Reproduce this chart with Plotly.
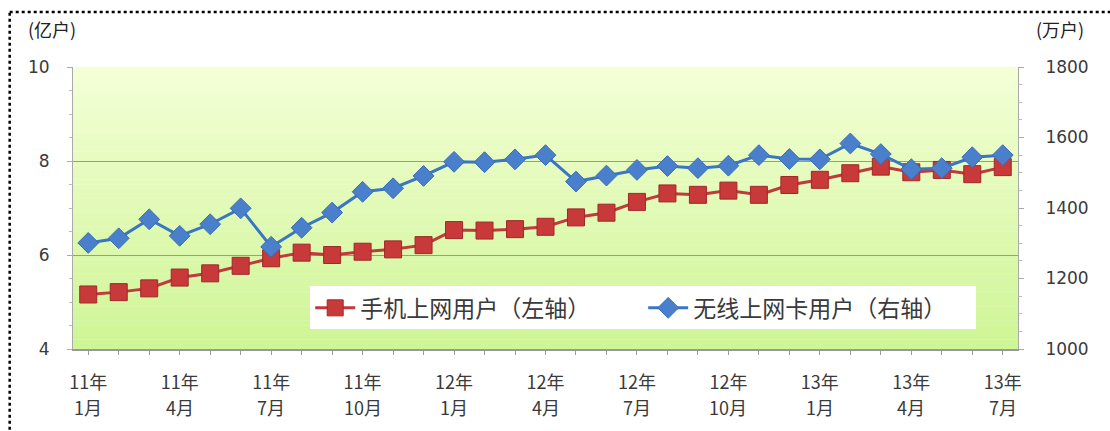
import plotly.graph_objects as go

months = [f"{y}年{m}月" for y in (11, 12, 13) for m in range(1, 13)][:31]
mobile_users = [5.16, 5.21, 5.29, 5.52, 5.61, 5.77, 5.93, 6.05, 6.00, 6.07,
                6.12, 6.21, 6.53, 6.52, 6.55, 6.60, 6.80, 6.90, 7.13, 7.31,
                7.28, 7.37, 7.28, 7.49, 7.60, 7.74, 7.88, 7.76, 7.81, 7.72, 7.87]
card_users = [1301, 1314, 1368, 1321, 1354, 1399, 1290, 1344, 1387, 1446,
              1456, 1491, 1531, 1530, 1538, 1550, 1475, 1492, 1508, 1519,
              1513, 1520, 1550, 1539, 1538, 1583, 1553, 1510, 1513, 1544, 1550]
tick_months = months[::3]
tick_years = [m.split("年")[0] + "年" if i % 3 == 0 else "" for i, m in enumerate(months)]
tick_month_text = [m.split("年")[1] for m in tick_months]

left_ticks = [4, 6, 8, 10]
right_ticks = [1000, 1200, 1400, 1600, 1800]

RED = "#c0393b"
BLUE = "#3b76c4"
NUM_FONT = "DejaVu Sans"
CJK = "Noto Sans CJK SC"
TXT = "#3a3a3a"

fig = go.Figure()
fig.add_trace(go.Scatter(
    x=months, y=mobile_users, name="手机上网用户（左轴）", mode="lines+markers",
    line=dict(color=RED, width=3),
    marker=dict(symbol="square", size=17, color="#c8393a", line=dict(color="#a02828", width=1)),
    yaxis="y"))
fig.add_trace(go.Scatter(
    x=months, y=card_users, name="无线上网卡用户（右轴）", mode="lines+markers",
    line=dict(color=BLUE, width=3),
    marker=dict(symbol="diamond", size=16, color="#4a7fcc", line=dict(color="#3a6cb8", width=1)),
    yaxis="y2"))

# gradient background for the plot area
shapes = []
n = 60
top = (244, 255, 214)
bot = (206, 245, 150)
for i in range(n):
    t = i / (n - 1)
    c = tuple(int(round(top[k] + (bot[k] - top[k]) * t)) for k in range(3))
    shapes.append(dict(type="rect", xref="x domain", yref="y domain",
                       x0=0, x1=1, y0=1 - (i + 1) / n, y1=1 - i / n + 0.001,
                       fillcolor=f"rgb{c}", line=dict(width=0), layer="below"))
# outer dotted frame (left & top)
shapes.append(dict(type="line", xref="paper", yref="paper", x0=-0.067, x1=-0.067,
                   y0=-0.35, y1=1.195, line=dict(color="black", width=2.5, dash="dot")))
shapes.append(dict(type="line", xref="paper", yref="paper", x0=-0.067, x1=1.12,
                   y0=1.195, y1=1.195, line=dict(color="black", width=2.5, dash="dot")))

fig.update_layout(
    width=1110, height=431,
    margin=dict(l=73, r=92, t=67, b=82, autoexpand=False),
    paper_bgcolor="white", plot_bgcolor="rgba(0,0,0,0)",
    shapes=shapes,
    showlegend=True,
    legend=dict(orientation="h", x=0.251, y=0.222, xanchor="left", yanchor="top",
                bgcolor="white", font=dict(family=CJK, size=23, color=TXT),
                itemwidth=40, entrywidth=278, tracegroupgap=0),
    xaxis=dict(type="category", range=[-0.5, 30.5], tickmode="array",
               tickvals=months, ticktext=tick_years, showgrid=False,
               showline=True, linecolor="#999", linewidth=2,
               ticks="outside", ticklen=4, tickcolor="#999",
               ticklabelstandoff=12, automargin=False,
               tickfont=dict(family=CJK, size=18, color=TXT)),
    yaxis=dict(range=[4, 10], tickvals=left_ticks, showgrid=True, gridcolor="#999",
               gridwidth=1, zeroline=False, showline=True, linecolor="#aaa", linewidth=1,
               ticks="outside", ticklen=5, tickcolor="#aaa",
               minor=dict(ticks="outside", ticklen=3, dtick=0.5, tickcolor="#bbb", showgrid=False),
               ticklabelstandoff=14, automargin=False,
               tickfont=dict(family=NUM_FONT, size=17, color=TXT)),
    yaxis2=dict(range=[1000, 1800], tickvals=right_ticks, overlaying="y", side="right",
                showgrid=False, zeroline=False, showline=True, linecolor="#aaa", linewidth=1,
                ticks="outside", ticklen=5, tickcolor="#aaa",
                minor=dict(ticks="outside", ticklen=3, dtick=50, tickcolor="#bbb", showgrid=False),
                ticklabelstandoff=18, automargin=False,
                tickfont=dict(family=NUM_FONT, size=17, color=TXT)),
)

for m, txt in zip(tick_months, tick_month_text):
    fig.add_annotation(text=txt, x=m, xref="x", yref="paper", y=-0.205,
                       yanchor="middle", showarrow=False,
                       font=dict(family=CJK, size=18, color=TXT))

fig.add_annotation(text="(亿户)", xref="paper", yref="paper", x=-0.05, y=1.08,
                   xanchor="left", yanchor="bottom", showarrow=False,
                   font=dict(family=CJK, size=18, color="#222"))
fig.add_annotation(text="(万户)", xref="paper", yref="paper", x=1.017, y=1.08,
                   xanchor="left", yanchor="bottom", showarrow=False,
                   font=dict(family=CJK, size=18, color="#222"))

fig.write_html("out.html", config={"displayModeBar": False},
               post_script="document.body.style.margin='0';")
